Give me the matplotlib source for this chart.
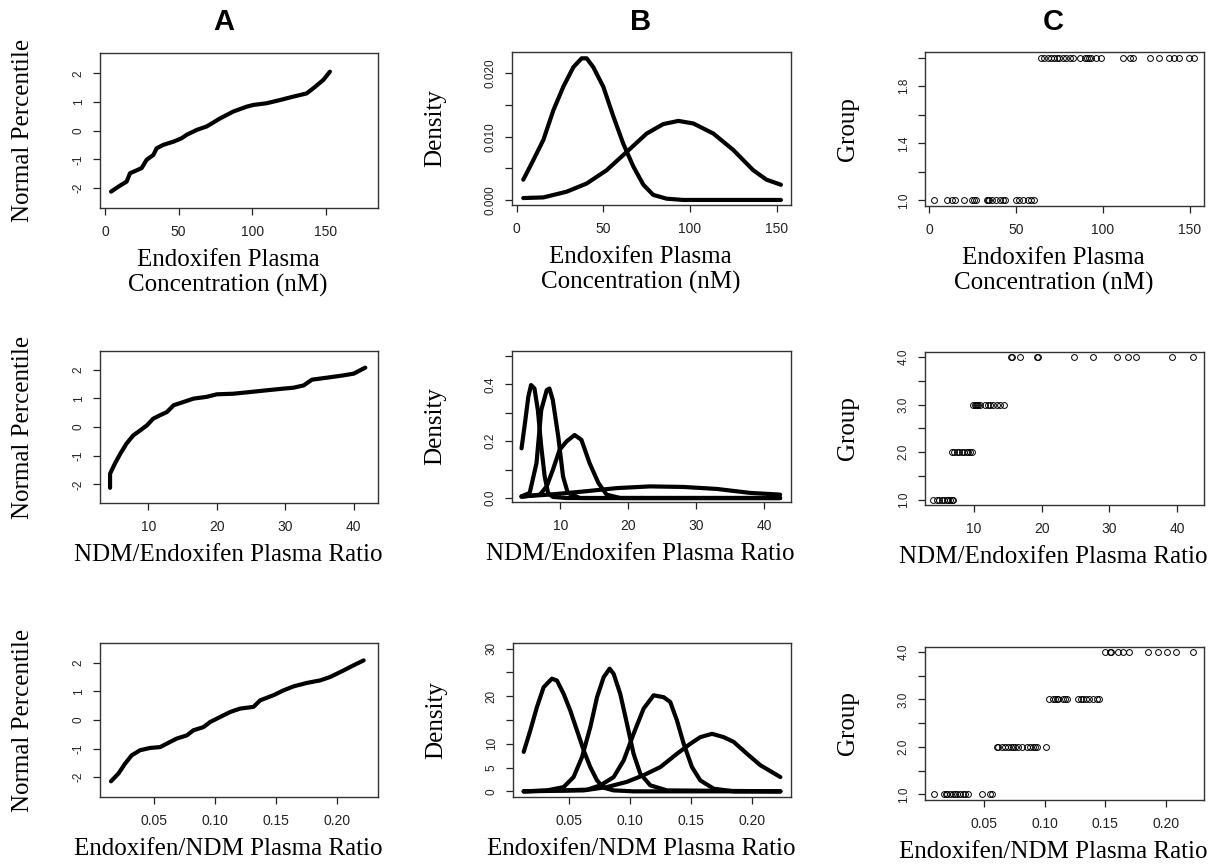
import numpy as np
import matplotlib.pyplot as plt
from matplotlib.ticker import FixedLocator, FixedFormatter

plt.rcParams['font.family'] = 'Liberation Sans'

# ---------------- data ----------------
# column A: normal QQ curves
qq_conc_x = [4.1, 9.0, 14.7, 17.0, 20.5, 24.9, 28.3, 32.9, 35.1, 39.6, 46.5, 52.1, 55.5,
             62.3, 69.1, 78.2, 87.2, 96.3, 100.8, 109.9, 118.9, 128.0, 137.0, 141.6,
             148.4, 152.9]
qq_conc_y = [-2.12, -1.95, -1.77, -1.48, -1.40, -1.30, -1.01, -0.84, -0.61, -0.49, -0.38,
             -0.26, -0.14, 0.03, 0.15, 0.43, 0.67, 0.84, 0.90, 0.96, 1.07, 1.19, 1.30,
             1.48, 1.77, 2.06]

qq_ndm_x = [4.4, 4.4, 5.1, 5.9, 6.8, 7.8, 8.8, 9.8, 10.7, 11.7, 12.7, 13.7, 15.1, 16.6,
            18.5, 20.0, 22.4, 24.9, 27.3, 29.8, 31.2, 32.7, 33.9, 36.1, 38.5, 40.0, 41.7]
qq_ndm_y = [-2.12, -1.63, -1.28, -0.93, -0.58, -0.29, -0.12, 0.06, 0.29, 0.41, 0.52, 0.76,
            0.87, 0.99, 1.05, 1.14, 1.16, 1.22, 1.28, 1.34, 1.37, 1.45, 1.65, 1.72, 1.80,
            1.86, 2.07]

qq_ratio_x = [0.0143, 0.0204, 0.0259, 0.0313, 0.0382, 0.0465, 0.0547, 0.0601, 0.0684,
              0.0766, 0.0821, 0.0903, 0.0958, 0.1040, 0.1122, 0.1204, 0.1314, 0.1369,
              0.1479, 0.1561, 0.1644, 0.1753, 0.1863, 0.1945, 0.2055, 0.2137, 0.2219]
qq_ratio_y = [-2.15, -1.88, -1.53, -1.24, -1.06, -0.98, -0.95, -0.83, -0.65, -0.54, -0.36,
              -0.25, -0.07, 0.105, 0.28, 0.40, 0.46, 0.69, 0.87, 1.04, 1.18, 1.30, 1.39,
              1.51, 1.74, 1.92, 2.09]

# column B: mixture component densities
dens_conc = [
    ([3.8, 9.6, 15.4, 21.2, 26.9, 32.7, 37.5, 40.4, 44.2, 50.0, 55.8, 61.5, 67.3, 73.1,
      78.8, 86.5, 96.0, 152.5],
     [0.0032, 0.0063, 0.0095, 0.0142, 0.0179, 0.0210, 0.0224, 0.0224, 0.0210, 0.0179,
      0.0132, 0.0089, 0.0053, 0.0024, 0.0008, 0.0002, 0.0, 0.0]),
    ([3.8, 15.4, 28.8, 40.4, 51.9, 63.5, 75.0, 84.6, 93.3, 101.9, 113.5, 125.0, 136.5,
      144.2, 152.5],
     [0.0003, 0.0004, 0.0013, 0.0026, 0.0047, 0.0076, 0.0105, 0.0120, 0.0125, 0.0121,
      0.0105, 0.0079, 0.0047, 0.0032, 0.0024]),
]

dens_ndm = [
    ([4.3, 4.8, 5.3, 5.7, 6.2, 6.7, 7.2, 7.7, 8.2, 8.9, 10.9, 42.3],
     [0.175, 0.263, 0.357, 0.398, 0.386, 0.31, 0.181, 0.076, 0.018, 0.004, 0.0, 0.0]),
    ([4.3, 5.5, 6.5, 7.2, 8.0, 8.4, 8.9, 9.7, 10.4, 11.1, 12.9, 42.3],
     [0.006, 0.018, 0.123, 0.31, 0.38, 0.386, 0.345, 0.216, 0.076, 0.018, 0.0, 0.0]),
    ([4.3, 7.0, 8.0, 8.9, 9.9, 10.9, 12.1, 13.1, 14.3, 15.6, 16.8, 18.8, 42.3],
     [0.004, 0.012, 0.041, 0.099, 0.17, 0.199, 0.222, 0.205, 0.123, 0.053, 0.012, 0.0, 0.0]),
    ([4.3, 8.4, 13.4, 18.3, 23.2, 28.1, 33.0, 37.9, 42.3],
     [0.006, 0.012, 0.023, 0.035, 0.041, 0.039, 0.032, 0.018, 0.012]),
]

dens_ratio = [
    ([0.0132, 0.0186, 0.024, 0.0295, 0.0363, 0.0404, 0.0459, 0.0513, 0.0568, 0.0623,
      0.0677, 0.0732, 0.0786, 0.0868, 0.1031, 0.2232],
     [8.3, 12.8, 17.7, 21.9, 23.7, 23.3, 20.5, 17.0, 12.8, 8.6, 5.1, 2.3, 0.77, 0.2, 0.0, 0.0]),
    ([0.0132, 0.0323, 0.0459, 0.054, 0.0609, 0.0677, 0.0732, 0.0786, 0.0835, 0.0868,
      0.0922, 0.0977, 0.1031, 0.1086, 0.1168, 0.1304, 0.2232],
     [0.0, 0.2, 0.9, 3.0, 7.2, 13.5, 19.8, 24.0, 25.8, 24.7, 20.5, 14.2, 7.9, 3.7, 1.26,
      0.2, 0.0]),
    ([0.0132, 0.065, 0.076, 0.0868, 0.095, 0.1031, 0.1113, 0.1195, 0.1277, 0.1331, 0.1386,
      0.1441, 0.1509, 0.1577, 0.1686, 0.185, 0.2232],
     [0.0, 0.35, 1.26, 3.0, 6.5, 12.1, 17.4, 20.2, 19.8, 18.8, 14.9, 10.0, 5.1, 2.3, 0.56,
      0.0, 0.0]),
    ([0.0132, 0.0623, 0.0813, 0.0977, 0.1113, 0.125, 0.1386, 0.1495, 0.1577, 0.1673,
      0.1768, 0.185, 0.1959, 0.2068, 0.2232],
     [0.0, 0.2, 0.9, 2.0, 3.4, 5.1, 7.9, 10.0, 11.4, 12.1, 11.4, 10.4, 7.9, 5.5, 3.0]),
]

# column C: group assignment of each subject
grp_conc = {
    1: [2.9, 10.1, 13.0, 14.9, 20.2, 24.6, 26.0, 27.0, 33.0, 33.7, 34.5, 36.2, 38.2,
        40.5, 42.6, 43.4, 49.8, 51.7, 53.7, 56.6, 58.5, 60.5],
    2: [64.3, 66.3, 68.2, 70.2, 72.1, 73.6, 75.0, 76.9, 78.9, 80.8, 82.8, 86.6, 89.5,
        91.0, 91.9, 93.4, 96.3, 99.2, 111.8, 115.7, 117.2, 127.3, 132.2, 138.0, 140.9,
        143.8, 149.6, 152.5],
}
grp_ndm = {
    1: [3.97, 4.46, 4.86, 5.2, 5.55, 5.94, 6.19, 6.44, 6.68, 6.93],
    2: [6.68, 7.03, 7.42, 7.82, 8.17, 8.51, 8.9, 9.15, 9.4, 9.64],
    3: [9.89, 10.14, 10.29, 10.49, 10.63, 10.88, 11.62, 12.11, 12.36, 12.85, 13.35,
        13.84, 14.43],
    4: [15.42, 15.57, 16.8, 19.26, 19.41, 24.79, 27.65, 31.2, 32.83, 33.96, 39.34, 42.35],
}
grp_ratio = {
    1: [0.0085, 0.0165, 0.0182, 0.0193, 0.0215, 0.0237, 0.0256, 0.0276, 0.0298, 0.032,
        0.0339, 0.0367, 0.0477, 0.0546, 0.056],
    2: [0.0601, 0.0615, 0.0642, 0.067, 0.0698, 0.0717, 0.0733, 0.0753, 0.078, 0.0808,
        0.0849, 0.0877, 0.0899, 0.0918, 0.0937, 0.1009],
    3: [0.1037, 0.1064, 0.1084, 0.1097, 0.1111, 0.1152, 0.1166, 0.118, 0.1276, 0.1295,
        0.1317, 0.1339, 0.1367, 0.1395, 0.1428, 0.145],
    4: [0.1497, 0.1538, 0.1547, 0.1602, 0.1649, 0.1698, 0.1856, 0.1938, 0.2007, 0.2084,
        0.2222],
}

row_xlabels = ['Endoxifen Plasma\nConcentration (nM)',
               'NDM/Endoxifen Plasma Ratio',
               'Endoxifen/NDM Plasma Ratio']
col_ylabels = ['Normal Percentile', 'Density', 'Group']
col_letters = ['A', 'B', 'C']

x_ticks = [[0, 50, 100, 150], [10, 20, 30, 40], [0.05, 0.10, 0.15, 0.20]]
x_ticklabels = [['0', '50', '100', '150'], ['10', '20', '30', '40'],
                ['0.05', '0.10', '0.15', '0.20']]

# ---------------- layout (pixels of a 1218x867 canvas) ----------------
W, H = 1218, 867
boxes = [  # (left, top, right, bottom)
    [(100, 53, 378, 208), (512, 52, 791, 205), (925, 52, 1204, 206)],
    [(100, 351, 378, 503), (512, 351, 791, 502), (925, 352, 1204, 505)],
    [(100, 643, 378, 797), (513, 643, 791, 797), (925, 647, 1204, 800)],
]
xlims = [[(-3.4, 185.6), (-2.7, 158.3), (-2.5, 158.3)],
         [(2.93, 43.56), (2.9, 43.9), (2.74, 44.0)],
         [(0.0053, 0.2337), (0.00445, 0.2319), (0.0008, 0.2316)]]
ylims = [[(-2.69, 2.71), (-0.0008, 0.0234), (0.96, 2.04)],
         [(-2.65, 2.65), (-0.014, 0.518), (0.89, 4.11)],
         [(-2.70, 2.70), (-1.19, 31.2), (0.88, 4.105)]]

qq_ticks = ([-2, -1, 0, 1, 2], ['-2', '-1', '0', '1', '2'])
dens_ticks = [([0, 0.005, 0.010, 0.015, 0.020], ['0.000', '', '0.010', '', '0.020']),
              ([0, 0.1, 0.2, 0.3, 0.4, 0.5], ['0.0', '', '0.2', '', '0.4', '']),
              ([0, 5, 10, 15, 20, 25, 30], ['0', '5', '10', '', '20', '', '30'])]
grp_ticks = [([1.0, 1.2, 1.4, 1.6, 1.8, 2.0], ['1.0', '', '1.4', '', '1.8', '']),
             ([1.0, 1.5, 2.0, 2.5, 3.0, 3.5, 4.0], ['1.0', '', '2.0', '', '3.0', '', '4.0']),
             ([1.0, 1.5, 2.0, 2.5, 3.0, 3.5, 4.0], ['1.0', '', '2.0', '', '3.0', '', '4.0'])]

qq_data = [(qq_conc_x, qq_conc_y), (qq_ndm_x, qq_ndm_y), (qq_ratio_x, qq_ratio_y)]
dens_data = [dens_conc, dens_ndm, dens_ratio]
grp_data = [grp_conc, grp_ndm, grp_ratio]

fig = plt.figure(figsize=(W / 100, H / 100), dpi=100)

for r in range(3):
    for c in range(3):
        l, t, rt, b = boxes[r][c]
        ax = fig.add_axes([l / W, 1 - b / H, (rt - l) / W, (b - t) / H])
        if c == 0:
            qx, qy = qq_data[r]
            ax.plot(qx, qy, color='black', lw=3, solid_capstyle='round')
            yt, yl = qq_ticks
        elif c == 1:
            for dx, dy in dens_data[r]:
                ax.plot(dx, dy, color='black', lw=3, solid_capstyle='round',
                        solid_joinstyle='round')
            yt, yl = dens_ticks[r]
        else:
            for g, xs in grp_data[r].items():
                ax.plot(xs, [g] * len(xs), 'o', ms=4.2, mfc='none', mec='black', mew=0.7)
            yt, yl = grp_ticks[r]

        ax.set_xlim(*xlims[r][c])
        ax.set_ylim(*ylims[r][c])
        ax.xaxis.set_major_locator(FixedLocator(x_ticks[r]))
        ax.xaxis.set_major_formatter(FixedFormatter(x_ticklabels[r]))
        ax.yaxis.set_major_locator(FixedLocator(yt))
        ax.yaxis.set_major_formatter(FixedFormatter(yl))
        ax.tick_params(direction='out', length=5, width=0.9, colors='#222222')
        ax.tick_params(axis='x', pad=7, labelsize=10)
        ax.tick_params(axis='y', pad=6, labelsize=8.5)
        plt.setp(ax.get_yticklabels(), rotation=90, va='center')
        for s in ax.spines.values():
            s.set_linewidth(1.0)
            s.set_color('#333333')

        ax.set_xlabel(row_xlabels[r], family='Liberation Serif', fontsize=18,
                      va='top', linespacing=1.15)
        ax.xaxis.set_label_coords(0.46, -41 / (b - t))
        ax.set_ylabel(col_ylabels[c], family='Liberation Serif', fontsize=18)
        ax.yaxis.label.set_va('center')
        ax.yaxis.set_label_coords(-77 / (rt - l), 0.5)

for cx, letter in zip([224, 641, 1053], col_letters):
    fig.text(cx / W, 1 - 22 / H, letter, ha='center', va='center',
             fontsize=21, fontweight='bold')

fig.savefig('out.png', dpi=100)
